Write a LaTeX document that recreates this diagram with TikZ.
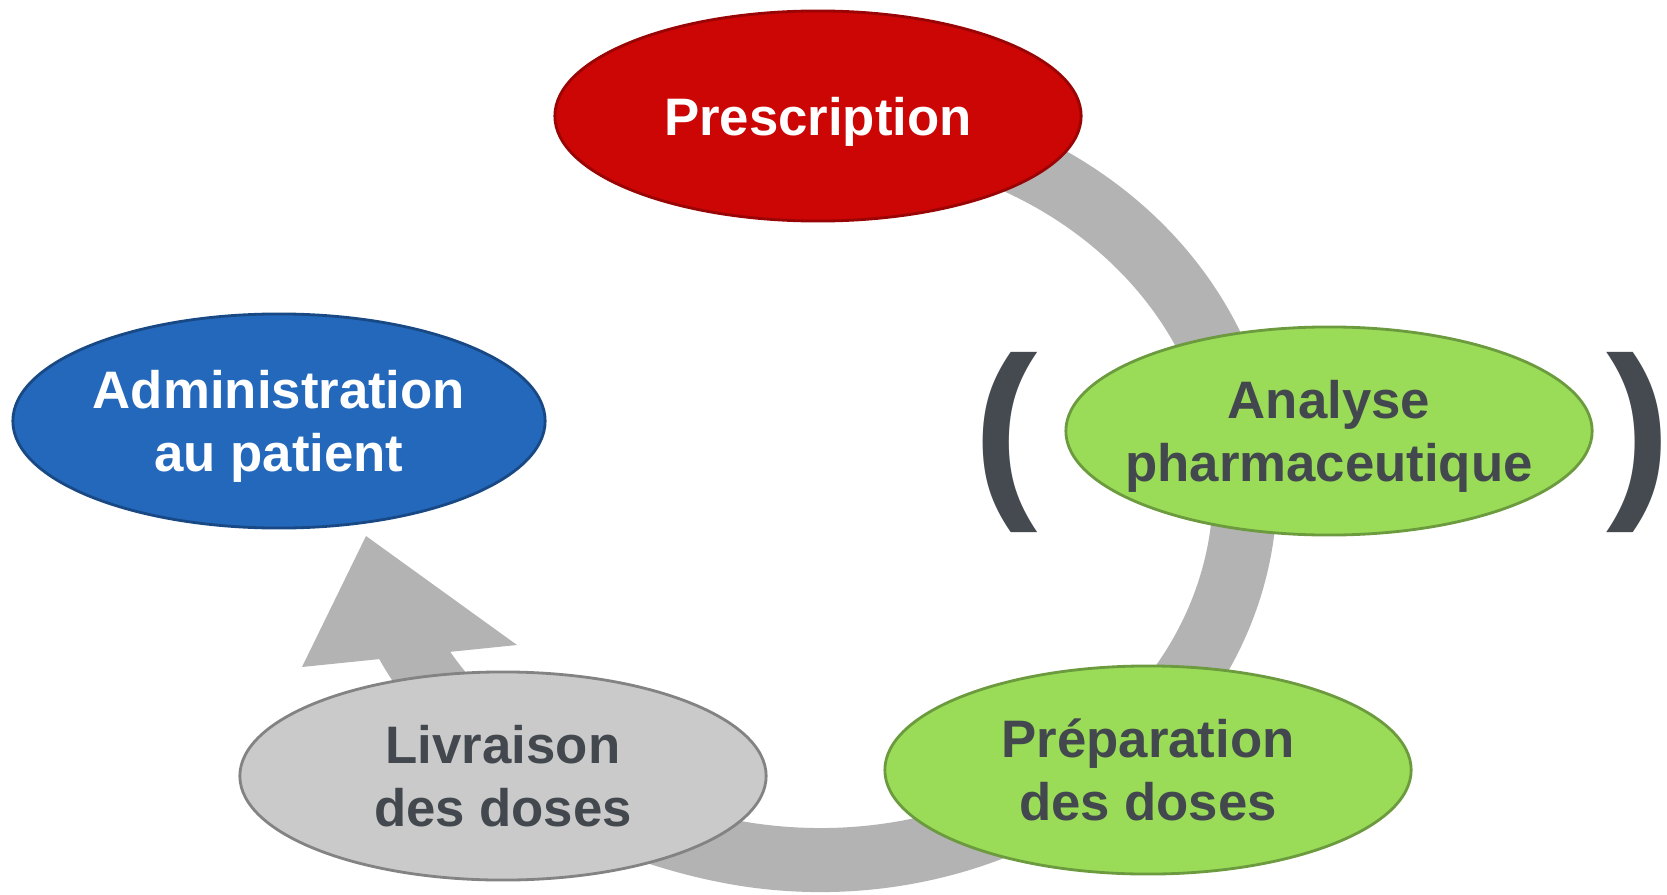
\documentclass[tikz,border=0pt]{standalone}
\usepackage{fontspec}
\setmainfont{Liberation Sans}
\usetikzlibrary{shapes.geometric}
\usetikzlibrary{backgrounds}

\definecolor{prescred}{HTML}{CC0505}
\definecolor{adminblue}{HTML}{2468BC}
\definecolor{pharmgreen}{HTML}{9ADC58}
\definecolor{livrgray}{HTML}{CACACA}
\definecolor{ringgray}{HTML}{B3B3B3}
\definecolor{textgray}{HTML}{43484E}
\definecolor{parengray}{HTML}{454A50}

\begin{document}
\begin{tikzpicture}[x=0.01cm, y=0.01cm, thick, outer sep=0,
    stage/.style={draw, ellipse, minimum width=5.26cm, minimum height=2.08cm, inner xsep=-10pt, inner ysep=0pt, align=center, font=\bfseries\fontsize{15}{18}\selectfont, text=textgray},
    ring/.style={draw=ringgray, line width=0.64cm},
    paren/.style={inner sep=0, text=parengray, font=\bfseries\fontsize{55}{55}\selectfont}]
        \useasboundingbox (0,0) rectangle (1667,-894);
        % steps of the cycle
        \node [stage, fill=prescred, draw=prescred!75!black, text=white, minimum height=2.1cm] (presc) at (818,-116) {\rule{0pt}{14pt}Prescription};
        \node [stage, fill=pharmgreen, draw=pharmgreen!70!black] (analyse) at (1329,-431) {\rule{0pt}{14pt}Analyse\\pharmaceutique};
        \node [stage, fill=pharmgreen, draw=pharmgreen!70!black] (prep) at (1148,-770) {\rule{0pt}{14pt}Préparation\\des doses\rule[-3.2pt]{0pt}{3.2pt}};
        \node [stage, fill=livrgray, draw=livrgray!65!black] (livr) at (503,-776) {\rule{0pt}{14pt}Livraison\\des doses\rule[-3.2pt]{0pt}{3.2pt}};
        \node [stage, fill=adminblue, draw=adminblue!70!black, text=white, minimum width=5.32cm, minimum height=2.14cm] (admin) at (279,-421) {\rule{0pt}{14pt}Administration\\au patient};
        % brackets round the analysis
        \node [paren] (lpar) at (1006,-442) {(};
        \node [paren] (rpar) at (1639,-442) {)};
        % cycle arrow, behind the steps
        \begin{scope}[on background layer]
            \coordinate (ring) at (820,-490);
            \coordinate (headbase) at (400,-630);
            \coordinate (tip) at (366,-536);
            \draw[ring] ([shift={(80:425 and 370)}]ring) arc[start angle=80, end angle=-100, x radius=425, y radius=370]
                .. controls (618,-834) and (467,-763) .. (headbase);
            \fill[ringgray] (tip) -- (517,-645) -- (302,-667) -- cycle;
        \end{scope}
    \end{tikzpicture}
\end{document}
